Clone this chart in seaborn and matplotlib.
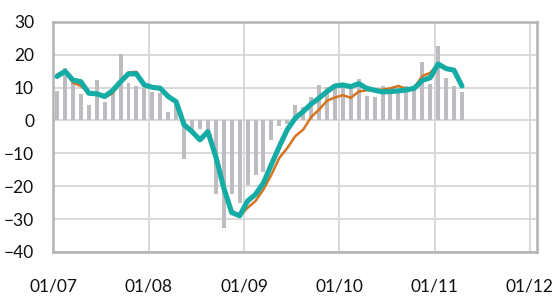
import numpy as np
import pandas as pd
import matplotlib
matplotlib.use("Agg")
import matplotlib.pyplot as plt
import seaborn as sns

# Monthly data, Jan 2007 - Apr 2011
months = pd.date_range("2007-01-01", "2011-04-01", freq="MS")

bars = [9.1, 15.9, 11.3, 8.1, 4.6, 12.3, 5.6, 8.3, 20.2, 11.3, 10.5, 10.0,
        8.8, 8.5, 2.5, 5.0, -11.7, -2.8, -2.5, -3.5, -22.5, -32.8, -22.5, -25.0,
        -19.5, -16.5, -15.8, -5.9, -1.8, -1.0, 4.7, 4.0, 7.0, 10.8, 10.3, 10.8,
        11.5, 10.1, 12.5, 7.5, 7.1, 10.4, 9.3, 8.3, 10.5, 9.8, 17.7, 11.1,
        22.6, 12.8, 10.5, 8.6]

orange = [14.0, 15.0, 11.5, 10.5, 8.5, 8.0, 7.0, 8.3, 11.5, 14.6, 14.8, 11.0,
          10.0, 9.8, 7.3, 5.7, -1.3, -3.4, -5.5, -4.0, -11.8, -20.5, -28.0, -29.0,
          -26.6, -24.5, -21.0, -16.5, -11.4, -8.4, -4.8, -2.8, 1.0, 3.3, 6.0, 7.0,
          7.7, 6.9, 8.8, 9.2, 9.2, 9.4, 9.8, 10.5, 9.6, 10.0, 13.5, 14.5,
          17.2, 15.8, 15.3, 10.5]

teal = [13.4, 15.0, 12.3, 11.8, 8.3, 8.1, 7.3, 9.1, 11.8, 14.2, 14.2, 10.8,
        10.1, 9.8, 7.3, 5.7, -1.3, -3.4, -5.9, -3.4, -11.0, -20.5, -28.0, -29.0,
        -24.5, -22.5, -19.0, -13.4, -7.9, -2.8, 0.7, 2.7, 5.0, 6.8, 8.8, 10.5,
        10.8, 10.3, 11.2, 9.8, 9.2, 8.7, 8.8, 9.0, 9.3, 9.8, 12.2, 13.0,
        17.2, 15.8, 15.3, 10.5]

years = [2007, 2008, 2009, 2010, 2011, 2012]
year_labels = ["01/07", "01/08", "01/09", "01/10", "01/11", "01/12"]
y_ticks = [-40, -30, -20, -10, 0, 10, 20, 30]

# x as fractional year, point placed a bit before mid-month
xpos = months.year + (months.month - 1 + 0.45) / 12

sns.set_style("white")
plt.rcParams["font.family"] = ["Lato", "DejaVu Sans"]

fig = plt.figure(figsize=(5.57, 2.96), dpi=100)
ax = fig.add_axes([0.096, 0.149, 0.868, 0.777])

grid_col = "#d6d6d6"
ax.set_axisbelow(True)
for yv in y_ticks:
    ax.axhline(yv, color=grid_col, lw=1.3, zorder=0)
for xv in years:
    ax.axvline(xv, color=grid_col, lw=1.3, zorder=0)

sns.barplot(x=xpos, y=bars, native_scale=True, width=0.5, color="#bdbdc1",
            saturation=1, linewidth=0, ax=ax, zorder=1)
sns.lineplot(x=xpos, y=orange, color="#d5731f", linewidth=1.8, ax=ax, zorder=2)
sns.lineplot(x=xpos, y=teal, color="#14aca5", linewidth=3.7, ax=ax, zorder=3)

ax.set_xlim(2007, 2012.075)
ax.set_ylim(-40, 30)
ax.set_xticks(years)
ax.set_xticklabels(year_labels)
ax.set_yticks(y_ticks)
ax.tick_params(axis="x", length=0, pad=19, labelsize=12.5, labelcolor="#111111")
ax.tick_params(axis="y", length=0, pad=14, labelsize=12.5, labelcolor="#111111")
ax.set_xlabel("")
ax.set_ylabel("")

for side in ["left", "right", "top", "bottom"]:
    ax.spines[side].set_visible(True)
    ax.spines[side].set_color("#b3b3b3")
    ax.spines[side].set_linewidth(1.8)

fig.savefig("out.png", dpi=100)
